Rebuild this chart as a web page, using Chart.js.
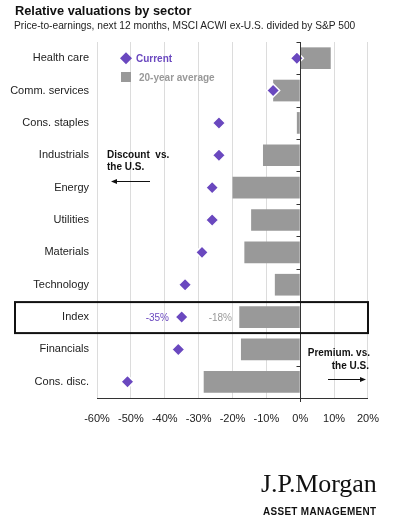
<!DOCTYPE html>
<html>
<head>
<meta charset="utf-8">
<script src="https://cdn.jsdelivr.net/npm/chart.js@4"></script>
<style>
  html, body { margin: 0; padding: 0; background: #fff; }
  #wrap { position: relative; width: 393px; height: 529px; }
  canvas { position: absolute; left: 0; top: 0; }
  .title { position: absolute; left: 15px; top: 3px; font: bold 12.8px "Liberation Sans", Arial, sans-serif; color: #111; }
  .sub { position: absolute; left: 14px; top: 20px; font: 10.2px "Liberation Sans", Arial, sans-serif; color: #222; }
  .logo { position: absolute; left: 261px; top: 469px; font: 26px "Liberation Serif", "Times New Roman", serif; color: #111; letter-spacing: -0.1px; }
  .am { position: absolute; left: 263px; top: 505px; font: bold 10.8px "Liberation Sans", Arial, sans-serif; color: #111; letter-spacing: 0.35px; transform: scaleX(0.92); transform-origin: left; }
</style>
</head>
<body>
<div id="wrap">
  <canvas id="chart" width="393" height="529"></canvas>
  <div class="title">Relative valuations by sector</div>
  <div class="sub">Price-to-earnings, next 12 months, MSCI ACWI ex-U.S. divided by S&amp;P 500</div>
  <div class="logo">J.P.Morgan</div>
  <div class="am">ASSET MANAGEMENT</div>
</div>
<script>
const categories = ['Health care', 'Comm. services', 'Cons. staples', 'Industrials', 'Energy', 'Utilities', 'Materials', 'Technology', 'Index', 'Financials', 'Cons. disc.'];
const current = [-1, -8, -24, -24, -26, -26, -29, -34, -35, -36, -51];
const avg20 = [9, -8, -1, -11, -20, -14.5, -16.5, -7.5, -18, -17.5, -28.5];
const xTicks = [-60, -50, -40, -30, -20, -10, 0, 10, 20];

const PURPLE = '#6a48bf';
const GREY = '#999999';
const FONT = '"Liberation Sans", Arial, sans-serif';

// zero line, small ticks, index box and the notes
const extras = {
    id: 'extras',
    afterDatasetsDraw(chart) {
        const { ctx, chartArea, scales } = chart;
        const x = scales.x, y = scales.y;
        const x0 = Math.round(x.getPixelForValue(0)) + 0.5;
        ctx.save();
        ctx.strokeStyle = '#333';
        ctx.lineWidth = 1;
        ctx.beginPath();
        ctx.moveTo(x0, chartArea.top);
        ctx.lineTo(x0, chartArea.bottom + 4);
        const band = (y.getPixelForValue(1) - y.getPixelForValue(0));
        for (let i = 0; i <= categories.length; i++) {
            const yy = Math.round(y.getPixelForValue(i) - band / 2) + 0.5;
            ctx.moveTo(x0 - 4, yy);
            ctx.lineTo(x0, yy);
        }
        ctx.stroke();

        // index box
        const iy = y.getPixelForValue(categories.indexOf('Index'));
        ctx.lineWidth = 2;
        ctx.strokeStyle = '#111';
        ctx.strokeRect(15, iy - 15, x.getPixelForValue(20) - 15, 31);

        // legend
        const ly = y.getPixelForValue(0);
        ctx.fillStyle = PURPLE;
        ctx.beginPath();
        ctx.moveTo(126, ly - 6); ctx.lineTo(132, ly); ctx.lineTo(126, ly + 6); ctx.lineTo(120, ly);
        ctx.closePath(); ctx.fill();
        ctx.font = 'bold 10px ' + FONT;
        ctx.textBaseline = 'middle';
        ctx.textAlign = 'left';
        ctx.fillText('Current', 136, ly + 1);
        ctx.fillStyle = GREY;
        ctx.fillRect(121, 72, 10, 10);
        ctx.fillText('20-year average', 139, 78);

        // index labels
        ctx.font = '10px ' + FONT;
        ctx.fillStyle = PURPLE;
        ctx.textAlign = 'right';
        ctx.fillText('-35%', 169, iy + 1);
        ctx.fillStyle = GREY;
        ctx.fillText('-18%', 232, iy + 1);

        // discount / premium notes
        ctx.fillStyle = '#111';
        ctx.font = 'bold 10px ' + FONT;
        ctx.textAlign = 'left';
        ctx.fillText('Discount  vs.', 107, 155);
        ctx.fillText('the U.S.', 107, 167);
        ctx.textAlign = 'right';
        ctx.fillText('Premium. vs.', 370, 353);
        ctx.fillText('the U.S.', 369, 366);

        ctx.strokeStyle = '#111';
        ctx.lineWidth = 1;
        ctx.beginPath();
        ctx.moveTo(115, 181.5); ctx.lineTo(150, 181.5);
        ctx.moveTo(328, 379.5); ctx.lineTo(360, 379.5);
        ctx.stroke();
        ctx.beginPath();
        ctx.moveTo(111, 181.5); ctx.lineTo(117, 179); ctx.lineTo(117, 184); ctx.closePath();
        ctx.moveTo(366, 379.5); ctx.lineTo(360, 377); ctx.lineTo(360, 382); ctx.closePath();
        ctx.fill();
        ctx.restore();
    }
};

new Chart(document.getElementById('chart'), {
    type: 'bar',
    data: {
        labels: categories,
        datasets: [{
            type: 'line',
            label: 'Current',
            data: current,
            showLine: false,
            pointStyle: 'rectRot',
            pointRadius: 6.5,
            pointBackgroundColor: PURPLE,
            pointBorderColor: '#fff',
            pointBorderWidth: 1.5,
            order: 0,
        }, {
            label: '20-year average',
            data: avg20,
            backgroundColor: GREY,
            categoryPercentage: 1,
            barPercentage: 0.67,
            order: 1,
        }],
    },
    options: {
        indexAxis: 'y',
        responsive: false,
        animation: false,
        layout: { padding: { left: 0, right: 25, top: 42, bottom: 101 } },
        plugins: { legend: { display: false }, tooltip: { enabled: false } },
        scales: {
            x: {
                min: -60,
                max: 20,
                afterBuildTicks: (s) => { s.ticks = xTicks.map(v => ({ value: v })); },
                afterFit: (s) => { s.height = 30; },
                grid: { color: '#dcdcdc', drawTicks: false },
                border: { color: '#333' },
                ticks: {
                    padding: 14,
                    color: '#222',
                    font: { family: FONT, size: 11 },
                    callback: v => v + '%',
                },
            },
            y: {
                afterFit: (s) => { s.width = 97; },
                grid: { display: false, drawTicks: false },
                border: { display: false },
                ticks: {
                    padding: 8,
                    color: '#222',
                    font: { family: FONT, size: 11 },
                },
            },
        },
    },
    plugins: [extras],
});
</script>
</body>
</html>
